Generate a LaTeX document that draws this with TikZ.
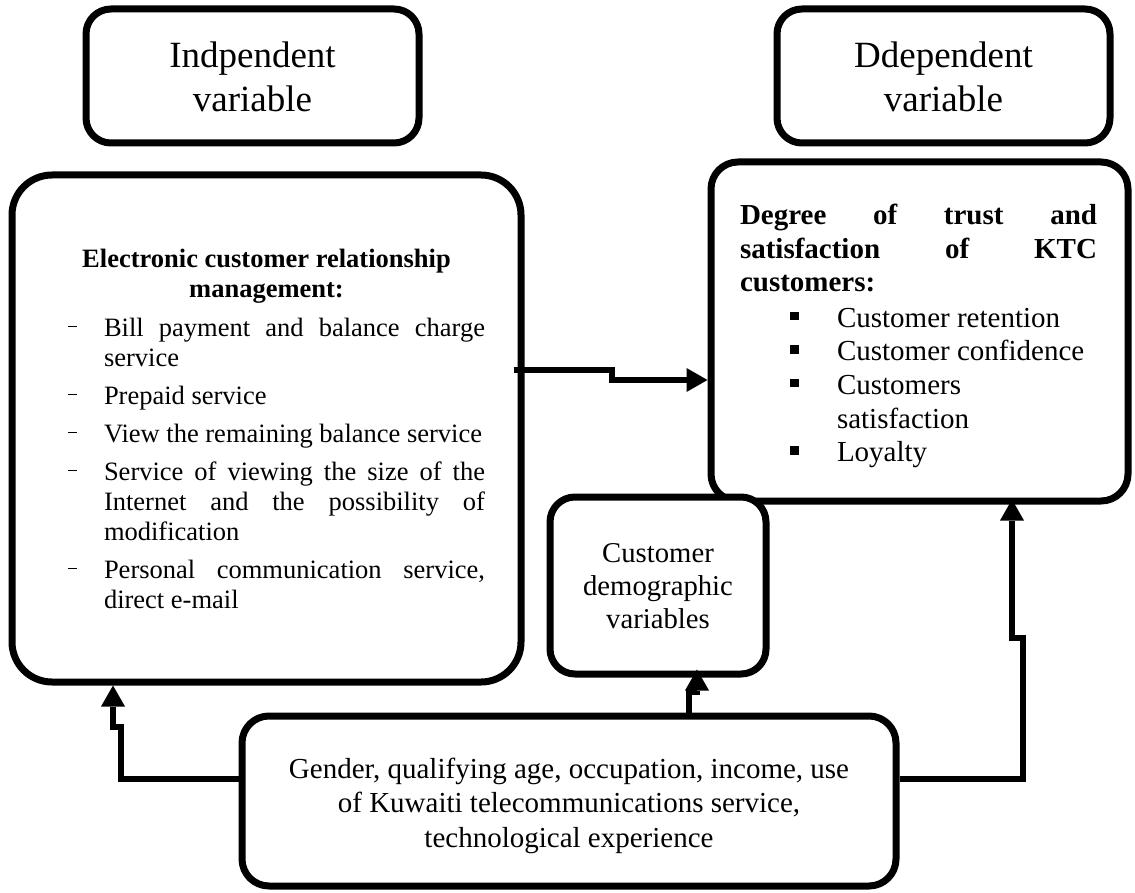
\documentclass[tikz,border=0pt]{standalone}
\usepackage{fontspec}
\setmainfont{Liberation Serif}
\usetikzlibrary{arrows.meta,calc}
\newcommand\myldash{\noindent\llap{\rule[8.5pt]{9pt}{1.4pt}\hspace{27pt}}}
\newcommand\myrbul{\noindent\llap{\rule[7pt]{8.5pt}{8.5pt}\hspace{38.5pt}}}
\tikzset{
  box/.style={draw, line width=7pt, fill=white, inner sep=0pt, outer sep=3.5pt},
  txt/.style={inner sep=0pt, outer sep=0pt, anchor=base},
  conn/.style={line width=6pt, line join=miter, -{Triangle[length=21pt,width=24pt,line width=0pt]}}
}
\begin{document}
\begin{tikzpicture}[x=1pt,y=-1pt]
\useasboundingbox (0,0) rectangle (1135,893);
\fill[white] (0,0) rectangle (1135,893);

% boxes
\node[box, rounded corners=25pt, minimum width=333pt, minimum height=134pt] (indep) at (252.5,76) {};
\node[box, rounded corners=25pt, minimum width=333pt, minimum height=134pt] (dep) at (943.5,76) {};
\node[box, rounded corners=40pt, minimum width=509pt, minimum height=507pt] (lbox) at (266.5,428.5) {};
\node[box, rounded corners=27pt, minimum width=417pt, minimum height=339pt] (rbox) at (919.5,331.5) {};
\node[box, rounded corners=25pt, minimum width=216pt, minimum height=177pt] (dbox) at (658,585.5) {};
\node[box, rounded corners=27pt, minimum width=654pt, minimum height=170pt] (bbox) at (569,801) {};

% texts
\node[txt] (indeptext) at (252.5,68) {\begin{minipage}[t]{320pt}\centering\fontsize{37}{44}\selectfont Indpendent\\variable\end{minipage}};
\node[txt] (deptext) at (943.5,68) {\begin{minipage}[t]{320pt}\centering\fontsize{37}{44}\selectfont Ddependent\\variable\end{minipage}};

\node[txt] (lhead) at (266.5,268) {\begin{minipage}[t]{500pt}\centering\bfseries\fontsize{26.5}{30}\selectfont Electronic customer relationship\\management:\end{minipage}};
\node[txt, anchor=base west] (litems) at (104,336) {\begin{minipage}[t]{381pt}\fontsize{26.5}{30}\selectfont
\parskip=8pt\hyphenpenalty=10000\exhyphenpenalty=10000\tolerance=10000\emergencystretch=20pt
\myldash Bill payment and balance charge\linebreak service\par
\myldash Prepaid service\par
\myldash View the remaining balance service\par
\myldash Service of viewing the size of the\linebreak Internet and the possibility of\linebreak modification\par
\myldash Personal communication service,\linebreak direct e-mail\par
\end{minipage}};

\node[txt, anchor=base west] (rhead) at (740,225) {\begin{minipage}[t]{357pt}\bfseries\fontsize{29}{33.5}\selectfont
\hyphenpenalty=10000\tolerance=10000
Degree of trust and\linebreak satisfaction of KTC\linebreak customers:\par
\end{minipage}};
\node[txt, anchor=base west] (ritems) at (837,327) {\begin{minipage}[t]{260pt}\raggedright\fontsize{29}{33.7}\selectfont
\hyphenpenalty=10000
\myrbul Customer retention\par
\myrbul Customer confidence\par
\myrbul Customers satisfaction\par
\myrbul Loyalty\par
\end{minipage}};

\node[txt] (dtext) at (658,562) {\begin{minipage}[t]{210pt}\centering\fontsize{28.7}{33}\selectfont Customer\\demographic\\variables\end{minipage}};
\node[txt] (btext) at (569,778) {\begin{minipage}[t]{640pt}\centering\fontsize{29}{34.5}\selectfont Gender, qualifying age, occupation, income, use\\of Kuwaiti telecommunications service,\\technological experience\end{minipage}};

% connectors
\coordinate (jA) at (612,370);
\coordinate (jB) at (612,380);
\draw[conn] ($(lbox.east |- jA)+(-11,0)$) -- (jA) -- (jB) -- (rbox.west |- jB);

\coordinate (kB1) at (121,779);
\coordinate (kB2) at (121,727);
\coordinate (kB3) at (113,727);
\draw[conn] (bbox.west |- kB1) -- (kB1) -- (kB2) -- (kB3) -- (lbox.south -| kB3);

\coordinate (kC1) at (1023,779);
\coordinate (kC2) at (1023,638);
\coordinate (kC3) at (1012,638);
\draw[conn] (bbox.east |- kC1) -- (kC1) -- (kC2) -- (kC3) -- ($(rbox.south -| kC3)+(0,-5)$);

\coordinate (kD1) at (689,692);
\coordinate (kD2) at (697,692);
\draw[conn] (bbox.north -| kD1) -- (kD1) -- (kD2) -- ($(dbox.south -| kD2)+(0,-8)$);
\end{tikzpicture}
\end{document}
